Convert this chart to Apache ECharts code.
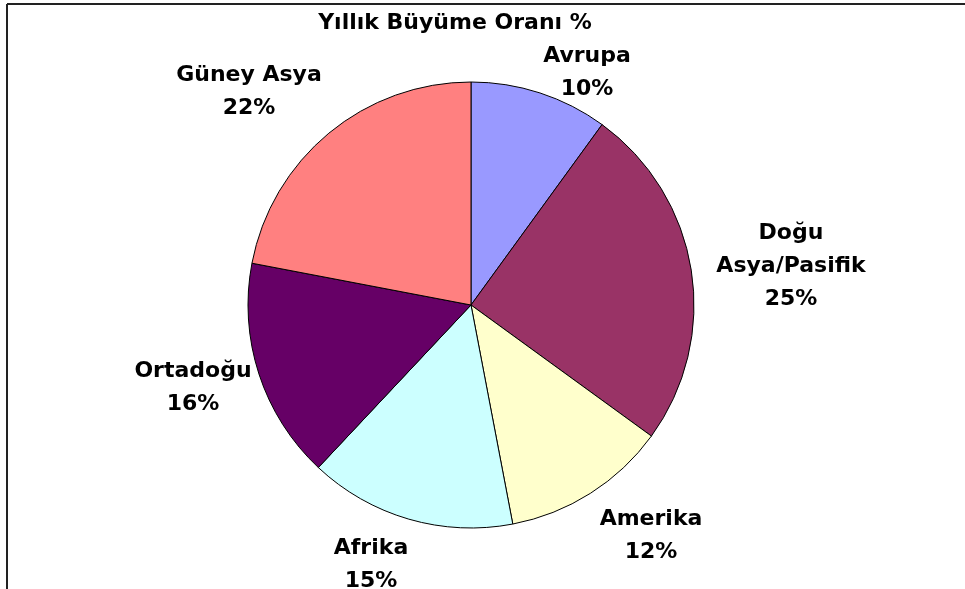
<!DOCTYPE html>
<html>
<head>
<meta charset="utf-8">
<script src="https://cdn.jsdelivr.net/npm/echarts@6/dist/echarts.min.js"></script>
<style>
  html, body { margin: 0; padding: 0; background: #fff; }
  #chart { width: 965px; height: 589px; }
</style>
</head>
<body>
<div id="chart"></div>
<script>
// data
var regions = ['Avrupa', 'Doğu\nAsya/Pasifik', 'Amerika', 'Afrika', 'Ortadoğu', 'Güney Asya'];
var growth = [10, 25, 12, 15, 16, 22];
var colors = ['#9999FF', '#993366', '#FFFFCC', '#CCFFFF', '#660066', '#FF8080'];
// where each label block sits (centre of text)
var labelPos = [[587, 73], [791, 266], [651, 536], [371, 565], [193, 388], [249, 92]];

var chart = echarts.init(document.getElementById('chart'));

var option = {
    backgroundColor: '#fff',
    animation: false,
    title: {
        text: 'Yıllık Büyüme Oranı %',
        left: 450,
        top: 7,
        textAlign: 'center',
        textStyle: {
            fontFamily: 'DejaVu Sans',
            fontWeight: 'bold',
            fontSize: 22,
            color: '#000'
        }
    },
    graphic: [
        { type: 'line', shape: { x1: 7, y1: 4, x2: 7, y2: 589 }, style: { stroke: '#222', lineWidth: 2 } },
        { type: 'line', shape: { x1: 7, y1: 4, x2: 965, y2: 4 }, style: { stroke: '#222', lineWidth: 2 } }
    ],
    series: [
        {
            type: 'pie',
            center: [471, 305],
            radius: 223,
            startAngle: 90,
            clockwise: true,
            avoidLabelOverlap: false,
            data: regions.map(function (n, i) {
                return { name: n, value: growth[i], itemStyle: { color: colors[i] } };
            }),
            itemStyle: { borderColor: '#000', borderWidth: 1 },
            label: {
                show: true,
                position: 'outside',
                formatter: '{b}\n{c}%',
                fontFamily: 'DejaVu Sans',
                fontWeight: 'bold',
                fontSize: 22,
                lineHeight: 33,
                color: '#000',
                align: 'center'
            },
            labelLine: { show: false },
            labelLayout: function (p) {
                var pos = labelPos[p.dataIndex];
                return { x: pos[0], y: pos[1], align: 'center', verticalAlign: 'middle' };
            },
            emphasis: { disabled: true }
        }
    ]
};

chart.setOption(option);
</script>
</body>
</html>
